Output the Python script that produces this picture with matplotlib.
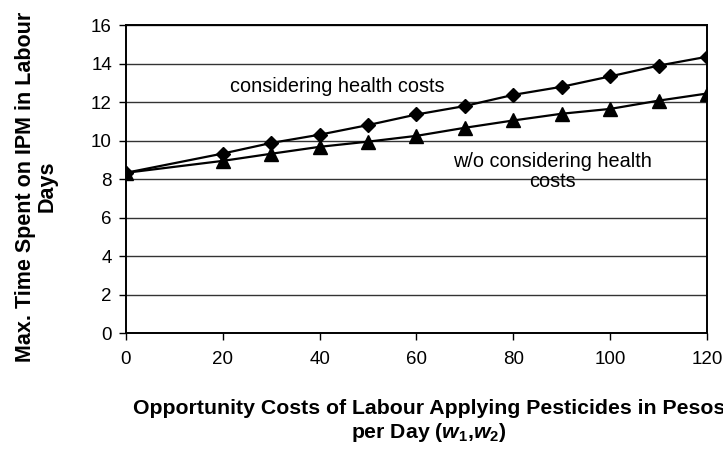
import matplotlib
matplotlib.use("Agg")
import matplotlib.pyplot as plt

# opportunity cost of labour (pesos/day)
wages = [0, 20, 30, 40, 50, 60, 70, 80, 90, 100, 110, 120]
with_health = [8.33, 9.33, 9.88, 10.31, 10.81, 11.36, 11.8, 12.38, 12.8, 13.34, 13.9, 14.36]
without_health = [8.33, 8.95, 9.32, 9.68, 9.95, 10.25, 10.67, 11.05, 11.4, 11.65, 12.08, 12.45]

y_ticks = [0, 2, 4, 6, 8, 10, 12, 14, 16]
x_ticks = [0, 20, 40, 60, 80, 100, 120]

plt.rcParams["font.family"] = ["Liberation Sans", "DejaVu Sans"]
plt.rcParams["mathtext.fontset"] = "custom"
plt.rcParams["mathtext.it"] = "Liberation Sans:bold:italic"
plt.rcParams["mathtext.rm"] = "Liberation Sans:bold"


def main():
    fig = plt.figure(figsize=(7.23, 4.66), dpi=100)
    ax = fig.add_axes([0.174, 0.285, 0.804, 0.661])

    ax.plot(wages, with_health, color="black", lw=1.6, marker="D", markersize=7.5, zorder=3)
    ax.plot(wages, without_health, color="black", lw=1.6, marker="^", markersize=9.5, zorder=3)

    ax.set_xlim(0, 120)
    ax.set_ylim(0, 16)
    ax.set_xticks(x_ticks)
    ax.set_yticks(y_ticks)
    ax.tick_params(labelsize=13.5, direction="out", length=5, width=1, color="black")
    ax.tick_params(axis="x", pad=8)
    ax.tick_params(axis="y", pad=5)
    ax.yaxis.grid(True, color="#333333", lw=1.0)
    ax.set_axisbelow(True)
    for s in ax.spines.values():
        s.set_linewidth(1.4)
        s.set_color("black")

    ax.text(43.7, 12.8, "considering health costs", fontsize=14.3, ha="center", va="center")
    ax.text(88, 8.4, "w/o considering health\ncosts", fontsize=14.3, ha="center",
            va="center", linespacing=1.1)

    fig.text(0.05, 0.6, "Max. Time Spent on IPM in Labour\nDays", rotation=90,
             ha="center", va="center", multialignment="center", fontsize=15.5,
             fontweight="bold", linespacing=1.05)
    fig.text(0.593, 0.096, "Opportunity Costs of Labour Applying Pesticides in Pesos\n"
             r"per Day ($w_1$,$w_2$)", ha="center", va="center",
             multialignment="center", fontsize=15.3, fontweight="bold", linespacing=1.2)

    fig.savefig("out.png", dpi=100)


if __name__ == "__main__":
    main()
